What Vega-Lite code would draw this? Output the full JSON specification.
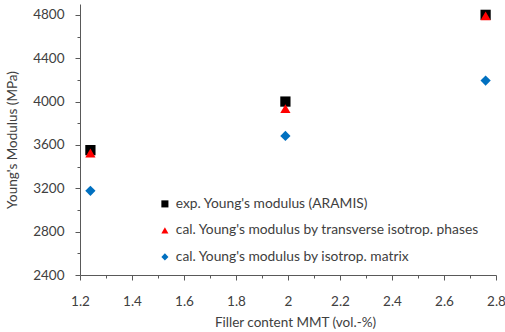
{
  "$schema": "https://vega.github.io/schema/vega-lite/v6.json",
  "width": 416,
  "height": 271,
  "autosize": {"type": "none"},
  "padding": {"left": 80, "top": 4, "right": 9, "bottom": 57},
  "background": "white",
  "config": {
    "view": {"stroke": null},
    "font": "Lato",
    "axis": {"grid": false, "domainColor": "#595959", "tickColor": "#595959", "labelColor": "#404040", "titleColor": "#404040", "labelFont": "Lato", "titleFont": "Lato", "labelFontSize": 13.5, "titleFontSize": 13.5, "titleFontWeight": "normal"}
  },
  "data": {
    "values": [
      {"series": "exp. Young's modulus (ARAMIS)", "filler": 1.24, "modulus": 3552},
      {"series": "exp. Young's modulus (ARAMIS)", "filler": 1.99, "modulus": 4000},
      {"series": "exp. Young's modulus (ARAMIS)", "filler": 2.76, "modulus": 4800},
      {"series": "cal. Young's modulus by transverse isotrop. phases", "filler": 1.24, "modulus": 3525},
      {"series": "cal. Young's modulus by transverse isotrop. phases", "filler": 1.99, "modulus": 3935},
      {"series": "cal. Young's modulus by transverse isotrop. phases", "filler": 2.76, "modulus": 4790},
      {"series": "cal. Young's modulus by isotrop. matrix", "filler": 1.24, "modulus": 3177},
      {"series": "cal. Young's modulus by isotrop. matrix", "filler": 1.99, "modulus": 3683},
      {"series": "cal. Young's modulus by isotrop. matrix", "filler": 2.76, "modulus": 4194}
    ]
  },
  "mark": {"type": "point", "filled": true, "opacity": 1, "size": 105},
  "encoding": {
    "x": {
      "field": "filler", "type": "quantitative",
      "scale": {"domain": [1.2, 2.8], "nice": false, "zero": false},
      "axis": {
        "title": "Filler content MMT (vol.-%)",
        "values": [1.2, 1.3, 1.4, 1.5, 1.6, 1.7, 1.8, 1.9, 2.0, 2.1, 2.2, 2.3, 2.4, 2.5, 2.6, 2.7, 2.8],
        "labelExpr": "abs(round(datum.value*10) % 2) == 0 ? format(datum.value, '~g') : ''",
        "tickSize": {"condition": {"test": "abs(round(datum.value*10) % 2) == 0", "value": 5}, "value": 3},
        "labelPadding": 14,
        "labelFlush": false,
        "labelOverlap": false,
        "titleX": 215,
        "titleY": 47,
        "titleBaseline": "middle"
      }
    },
    "y": {
      "field": "modulus", "type": "quantitative",
      "scale": {"domain": [2400, 4900], "nice": false, "zero": false},
      "axis": {
        "title": "Young's Modulus (MPa)",
        "values": [2400, 2600, 2800, 3000, 3200, 3400, 3600, 3800, 4000, 4200, 4400, 4600, 4800],
        "labelExpr": "datum.value % 400 == 0 ? datum.value + '' : ''",
        "tickSize": {"condition": {"test": "datum.value % 400 == 0", "value": 5}, "value": 3},
        "labelPadding": 11,
        "labelOverlap": false,
        "titleX": -68,
        "titleBaseline": "middle"
      }
    },
    "color": {
      "field": "series", "type": "nominal",
      "scale": {
        "domain": ["exp. Young's modulus (ARAMIS)", "cal. Young's modulus by transverse isotrop. phases", "cal. Young's modulus by isotrop. matrix"],
        "range": ["#000000", "#ff0000", "#0070c0"]
      },
      "legend": {
        "title": null,
        "orient": "none",
        "legendX": 78,
        "legendY": 193,
        "padding": 0,
        "symbolSize": 50,
        "labelFontSize": 13.8,
        "labelColor": "#404040",
        "labelFont": "Lato",
        "labelOffset": 4,
        "labelLimit": 400,
        "rowPadding": 11.5
      }
    },
    "shape": {
      "field": "series", "type": "nominal",
      "scale": {
        "domain": ["exp. Young's modulus (ARAMIS)", "cal. Young's modulus by transverse isotrop. phases", "cal. Young's modulus by isotrop. matrix"],
        "range": ["square", "triangle-up", "diamond"]
      },
      "legend": null
    }
  }
}
